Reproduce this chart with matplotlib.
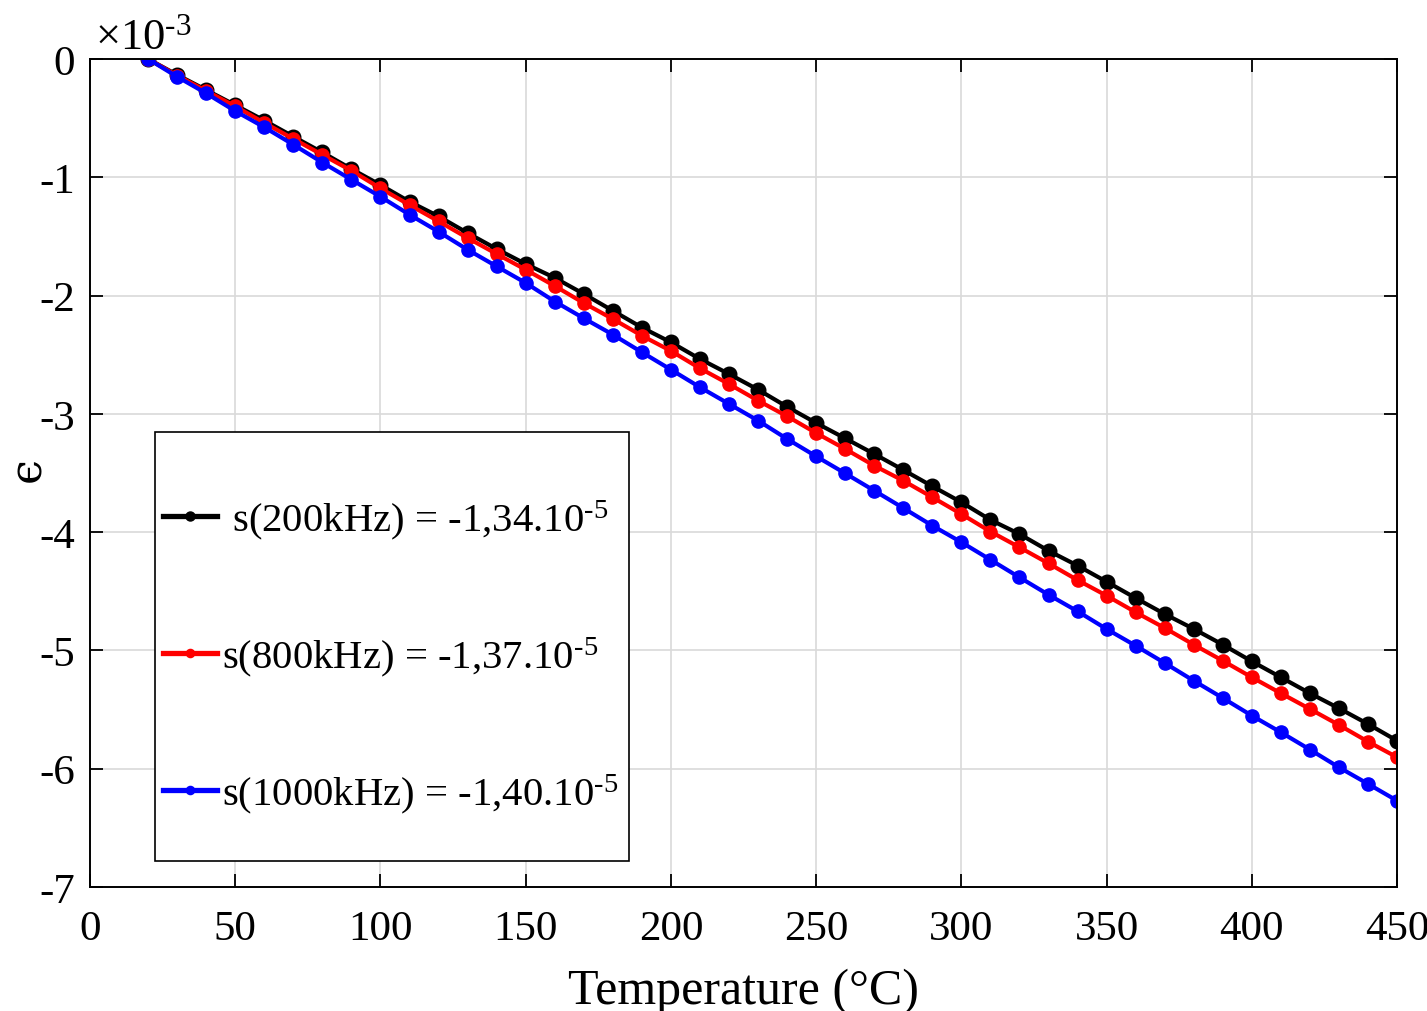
import matplotlib
matplotlib.use("Agg")
import matplotlib.pyplot as plt
from matplotlib.patches import Rectangle

plt.rcParams['font.family'] = ['Liberation Serif', 'DejaVu Serif']
plt.rcParams['mathtext.fontset'] = 'custom'
plt.rcParams['mathtext.rm'] = 'Liberation Serif'
plt.rcParams['mathtext.it'] = 'Liberation Serif:italic'
plt.rcParams['axes.unicode_minus'] = False

# Temperature (°C)
temperature = [20, 30, 40, 50, 60, 70, 80, 90, 100, 110, 120, 130, 140, 150, 160,
               170, 180, 190, 200, 210, 220, 230, 240, 250, 260, 270, 280, 290, 300,
               310, 320, 330, 340, 350, 360, 370, 380, 390, 400, 410, 420, 430, 440, 450]

# strain values in units of 1e-3
eps_200k = [0.0, -0.134, -0.262, -0.390, -0.520, -0.656, -0.790, -0.930, -1.065, -1.206,
            -1.330, -1.471, -1.606, -1.733, -1.850, -1.986, -2.128, -2.270, -2.395, -2.536,
            -2.663, -2.795, -2.940, -3.077, -3.207, -3.339, -3.474, -3.612, -3.747, -3.896,
            -4.016, -4.157, -4.283, -4.419, -4.557, -4.692, -4.818, -4.951, -5.092, -5.227,
            -5.362, -5.489, -5.622, -5.763]
eps_800k = [0.0, -0.140, -0.270, -0.400, -0.540, -0.675, -0.810, -0.944, -1.093, -1.234,
            -1.372, -1.513, -1.648, -1.781, -1.919, -2.063, -2.198, -2.339, -2.468, -2.615,
            -2.748, -2.888, -3.020, -3.162, -3.297, -3.438, -3.565, -3.705, -3.847, -3.995,
            -4.128, -4.264, -4.405, -4.537, -4.677, -4.810, -4.951, -5.087, -5.227, -5.362,
            -5.495, -5.630, -5.771, -5.903]
eps_1000k = [0.0, -0.150, -0.290, -0.440, -0.577, -0.724, -0.875, -1.020, -1.164, -1.316,
             -1.460, -1.612, -1.753, -1.893, -2.050, -2.192, -2.330, -2.479, -2.626, -2.775,
             -2.916, -3.057, -3.212, -3.359, -3.503, -3.649, -3.796, -3.945, -4.085, -4.233,
             -4.382, -4.529, -4.669, -4.819, -4.960, -5.106, -5.256, -5.402, -5.551, -5.692,
             -5.838, -5.988, -6.128, -6.270]

labels = [r' s(200kHz) = -1,34.10$^{\text{-5}}$',
          r's(800kHz) = -1,37.10$^{\text{-5}}$',
          r's(1000kHz) = -1,40.10$^{\text{-5}}$']
colors = ['black', 'red', 'blue']
x_ticks = [0, 50, 100, 150, 200, 250, 300, 350, 400, 450]
y_ticks = [-7, -6, -5, -4, -3, -2, -1, 0]

fig = plt.figure(figsize=(14.27, 10.12), dpi=100)
ax = fig.add_axes([0.0631, 0.1225, 0.9159, 0.8182])

series = [eps_200k, eps_800k, eps_1000k]
msizes = [10.5, 9.5, 9.5]
for ys, c, lab, ms in zip(series, colors, labels, msizes):
    ax.plot(temperature, ys, color=c, lw=3.0, marker='o', markersize=ms, label=lab)

ax.set_xlim(0, 450)
ax.set_ylim(-7, 0)
ax.set_xticks(x_ticks)
ax.set_yticks(y_ticks)
ax.grid(True, color='#d9d9d9', lw=1.2)
ax.set_axisbelow(True)
ax.tick_params(direction='in', length=9.5, width=1.3, top=True, right=True,
               labelsize=31)
ax.tick_params(axis='x', pad=16)
ax.tick_params(axis='y', pad=11)
for s in ax.spines.values():
    s.set_linewidth(1.4)

ax.set_xlabel('Temperature (°C)', fontsize=36, labelpad=14)
ax.set_ylabel('\u03f5', fontsize=32, family=['DejaVu Serif'], va='center')
ax.yaxis.set_label_coords(-0.048, 0.505)
ax.text(0.004, 1.013, r'$\times 10^{\text{-3}}$', transform=ax.transAxes, fontsize=32,
        ha='left', va='baseline')

# legend box (MATLAB-style tall box)
ax.add_patch(Rectangle((0.0497, 0.0314), 0.3627, 0.5181, transform=ax.transAxes,
                       facecolor='white', edgecolor='black', lw=1.2, zorder=5))
leg = ax.legend(loc='upper left', bbox_to_anchor=(0.0559, 0.471), fontsize=29.3,
                frameon=False, handlelength=1.33, handletextpad=0.12,
                labelspacing=2.3, borderpad=0.0, borderaxespad=0.0,
                markerscale=0.62)
for ln in leg.get_lines():
    ln.set_linewidth(3.8)
leg.set_zorder(6)

fig.savefig('out.png', dpi=100)
